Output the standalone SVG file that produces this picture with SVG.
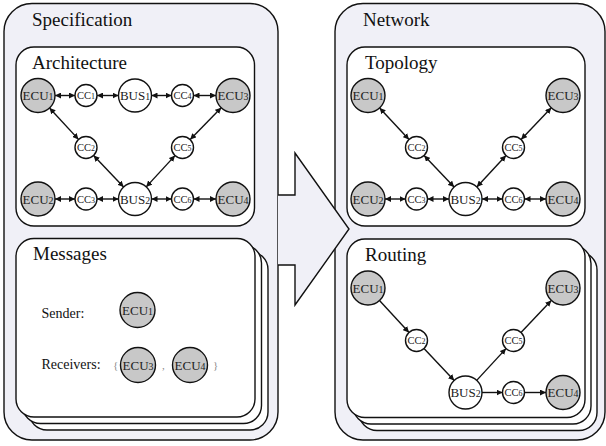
<svg xmlns="http://www.w3.org/2000/svg" width="606" height="446" viewBox="0 0 606 446">
  <defs>
    <marker id="ah" viewBox="0 0 6 6" refX="6" refY="3" markerWidth="6" markerHeight="6" markerUnits="userSpaceOnUse" orient="auto-start-reverse">
      <path d="M0,0 L6,3 L0,6 z" fill="#111"/>
    </marker>
  </defs>
  <style>
    .frame { fill:#f0f0f7; stroke:#111; stroke-width:1.4 }
    .panel { fill:#fff; stroke:#111; stroke-width:1.4 }
    .ecu { fill:#c8c8c8; stroke:#111; stroke-width:1.4 }
    .cc, .bus { fill:#fff; stroke:#111; stroke-width:1.4 }
    .title { font-family:"Liberation Serif", serif; font-size:19px; fill:#111 }
    .lbl { font-family:"Liberation Serif", serif; font-size:13px; fill:#222; text-anchor:middle }
    .lbl.small { font-size:10.5px }
    .n { font-size:76% }
    .txt { font-family:"Liberation Serif", serif; font-size:14px; fill:#111 }
    .punct { font-family:"Liberation Serif", serif; font-size:11px; fill:#888 }
    .edge { fill:none; stroke:#111; stroke-width:1.4; marker-end:url(#ah) }
    .both { marker-start:url(#ah) }
  </style>

  <!-- outer frames -->
  <rect class="frame" x="4" y="3.5" width="274" height="436.5" rx="28"/>
  <rect class="frame" x="335" y="3.5" width="270" height="436.5" rx="28"/>

  <!-- transformation arrow -->
  <g id="transform-arrow">
    <path d="M278,195 H295 V153 L349,229 L295,305 V265 H278 Z" fill="#f0f0f7" stroke="none"/>
    <path d="M278,195 H295 V153 L349,229 L295,305 V265 H278" fill="none" stroke="#111" stroke-width="1.4"/>
  </g>

  <text class="title" x="32" y="26">Specification</text>
  <text class="title" x="363" y="26">Network</text>

  <!-- panels -->
  <rect class="panel" x="16" y="47" width="238.5" height="179" rx="18"/>
  <rect class="panel" x="347" y="47" width="238" height="179" rx="18"/>

  <g id="messages-stack">
    <rect class="panel" x="29" y="251.5" width="239" height="178.5" rx="18"/>
    <rect class="panel" x="22.5" y="245" width="239" height="178.5" rx="18"/>
    <rect class="panel" x="16" y="238.5" width="239" height="178.5" rx="18"/>
  </g>
  <g id="routing-stack">
    <rect class="panel" x="359" y="252" width="238" height="178.5" rx="18"/>
    <rect class="panel" x="353" y="245.5" width="238" height="178.5" rx="18"/>
    <rect class="panel" x="347" y="239" width="238" height="178.5" rx="18"/>
  </g>

  <text class="title" x="32" y="69">Architecture</text>
  <text class="title" x="365" y="69">Topology</text>
  <text class="title" x="33" y="260">Messages</text>
  <text class="title" x="365" y="261">Routing</text>

  <!-- connectors -->
  <g id="connectors">
    <!-- architecture (bidirectional) -->
    <path class="edge both" d="M55,95.5 H75"/>
    <path class="edge both" d="M97,95.5 H118.5"/>
    <path class="edge both" d="M151.5,95.5 H171.5"/>
    <path class="edge both" d="M193.5,95.5 H216"/>
    <path class="edge both" d="M55,199 H75"/>
    <path class="edge both" d="M97,199 H118.5"/>
    <path class="edge both" d="M151.5,199 H171.5"/>
    <path class="edge both" d="M193.5,199 H216"/>
    <path class="edge both" d="M49.5,108 L78.5,139.4"/>
    <path class="edge both" d="M93.6,155.5 L123.6,187.1"/>
    <path class="edge both" d="M221.2,107.7 L190.2,139.6"/>
    <path class="edge both" d="M175,155.6 L146.2,186.9"/>
    <!-- topology (bidirectional) -->
    <path class="edge both" d="M385,199 H405.5"/>
    <path class="edge both" d="M427.5,199 H449"/>
    <path class="edge both" d="M482,199 H502.5"/>
    <path class="edge both" d="M524.5,199 H546"/>
    <path class="edge both" d="M379.6,107.9 L409,139.5"/>
    <path class="edge both" d="M424.1,155.5 L454.1,187.1"/>
    <path class="edge both" d="M551.3,107.8 L521.1,139.5"/>
    <path class="edge both" d="M506,155.6 L476.8,186.9"/>
    <!-- routing (directed) -->
    <path class="edge" d="M379.5,300.5 L409,332.4"/>
    <path class="edge" d="M424,348.5 L454.2,380.5"/>
    <path class="edge" d="M476.7,380.4 L506,348.6"/>
    <path class="edge" d="M521,332.5 L551.3,300.4"/>
    <path class="edge" d="M482,392.5 H502.5"/>
    <path class="edge" d="M524.5,392.5 H546"/>
  </g>

  <!-- architecture nodes -->
  <g id="arch-ecu1"><circle class="ecu" cx="38" cy="95.5" r="17"/><text class="lbl" x="38" y="100">ECU<tspan class="n">1</tspan></text></g>
  <g id="arch-cc1"><circle class="cc" cx="86" cy="95.5" r="11"/><text class="lbl small" x="86" y="99">CC<tspan class="n">1</tspan></text></g>
  <g id="arch-bus1"><circle class="bus" cx="135" cy="95.5" r="16.5"/><text class="lbl" x="135" y="100">BUS<tspan class="n">1</tspan></text></g>
  <g id="arch-cc4"><circle class="cc" cx="182.5" cy="95.5" r="11"/><text class="lbl small" x="182.5" y="99">CC<tspan class="n">4</tspan></text></g>
  <g id="arch-ecu3"><circle class="ecu" cx="233" cy="95.5" r="17"/><text class="lbl" x="233" y="100">ECU<tspan class="n">3</tspan></text></g>
  <g id="arch-cc2"><circle class="cc" cx="86" cy="147.5" r="11"/><text class="lbl small" x="86" y="151">CC<tspan class="n">2</tspan></text></g>
  <g id="arch-cc5"><circle class="cc" cx="182.5" cy="147.5" r="11"/><text class="lbl small" x="182.5" y="151">CC<tspan class="n">5</tspan></text></g>
  <g id="arch-ecu2"><circle class="ecu" cx="38" cy="199" r="17"/><text class="lbl" x="38" y="203.5">ECU<tspan class="n">2</tspan></text></g>
  <g id="arch-cc3"><circle class="cc" cx="86" cy="199" r="11"/><text class="lbl small" x="86" y="202.5">CC<tspan class="n">3</tspan></text></g>
  <g id="arch-bus2"><circle class="bus" cx="135" cy="199" r="16.5"/><text class="lbl" x="135" y="203.5">BUS<tspan class="n">2</tspan></text></g>
  <g id="arch-cc6"><circle class="cc" cx="182.5" cy="199" r="11"/><text class="lbl small" x="182.5" y="202.5">CC<tspan class="n">6</tspan></text></g>
  <g id="arch-ecu4"><circle class="ecu" cx="233" cy="199" r="17"/><text class="lbl" x="233" y="203.5">ECU<tspan class="n">4</tspan></text></g>

  <!-- messages -->
  <text class="txt" x="41.5" y="318">Sender:</text>
  <g id="msg-sender"><circle class="ecu" cx="137.5" cy="310" r="17.5"/><text class="lbl" x="137.5" y="314.5">ECU<tspan class="n">1</tspan></text></g>
  <text class="txt" x="41.5" y="369">Receivers:</text>
  <text class="punct" x="113" y="368.5">{</text>
  <g id="msg-recv3"><circle class="ecu" cx="138" cy="365" r="17.5"/><text class="lbl" x="138" y="369.5">ECU<tspan class="n">3</tspan></text></g>
  <text class="punct" x="162" y="368.5">,</text>
  <g id="msg-recv4"><circle class="ecu" cx="190" cy="365" r="17.5"/><text class="lbl" x="190" y="369.5">ECU<tspan class="n">4</tspan></text></g>
  <text class="punct" x="213" y="368.5">}</text>

  <!-- topology nodes -->
  <g id="topo-ecu1"><circle class="ecu" cx="368" cy="95.5" r="17"/><text class="lbl" x="368" y="100">ECU<tspan class="n">1</tspan></text></g>
  <g id="topo-ecu3"><circle class="ecu" cx="563" cy="95.5" r="17"/><text class="lbl" x="563" y="100">ECU<tspan class="n">3</tspan></text></g>
  <g id="topo-cc2"><circle class="cc" cx="416.5" cy="147.5" r="11"/><text class="lbl small" x="416.5" y="151">CC<tspan class="n">2</tspan></text></g>
  <g id="topo-cc5"><circle class="cc" cx="513.5" cy="147.5" r="11"/><text class="lbl small" x="513.5" y="151">CC<tspan class="n">5</tspan></text></g>
  <g id="topo-ecu2"><circle class="ecu" cx="368" cy="199" r="17"/><text class="lbl" x="368" y="203.5">ECU<tspan class="n">2</tspan></text></g>
  <g id="topo-cc3"><circle class="cc" cx="416.5" cy="199" r="11"/><text class="lbl small" x="416.5" y="202.5">CC<tspan class="n">3</tspan></text></g>
  <g id="topo-bus2"><circle class="bus" cx="465.5" cy="199" r="16.5"/><text class="lbl" x="465.5" y="203.5">BUS<tspan class="n">2</tspan></text></g>
  <g id="topo-cc6"><circle class="cc" cx="513.5" cy="199" r="11"/><text class="lbl small" x="513.5" y="202.5">CC<tspan class="n">6</tspan></text></g>
  <g id="topo-ecu4"><circle class="ecu" cx="563" cy="199" r="17"/><text class="lbl" x="563" y="203.5">ECU<tspan class="n">4</tspan></text></g>

  <!-- routing nodes -->
  <g id="route-ecu1"><circle class="ecu" cx="368" cy="288" r="17"/><text class="lbl" x="368" y="292.5">ECU<tspan class="n">1</tspan></text></g>
  <g id="route-cc2"><circle class="cc" cx="416.5" cy="340.5" r="11"/><text class="lbl small" x="416.5" y="344">CC<tspan class="n">2</tspan></text></g>
  <g id="route-bus2"><circle class="bus" cx="465.5" cy="392.5" r="16.5"/><text class="lbl" x="465.5" y="397">BUS<tspan class="n">2</tspan></text></g>
  <g id="route-cc5"><circle class="cc" cx="513.5" cy="340.5" r="11"/><text class="lbl small" x="513.5" y="344">CC<tspan class="n">5</tspan></text></g>
  <g id="route-ecu3"><circle class="ecu" cx="563" cy="288" r="17"/><text class="lbl" x="563" y="292.5">ECU<tspan class="n">3</tspan></text></g>
  <g id="route-cc6"><circle class="cc" cx="513.5" cy="392.5" r="11"/><text class="lbl small" x="513.5" y="396">CC<tspan class="n">6</tspan></text></g>
  <g id="route-ecu4"><circle class="ecu" cx="563" cy="392.5" r="17"/><text class="lbl" x="563" y="397">ECU<tspan class="n">4</tspan></text></g>
</svg>
